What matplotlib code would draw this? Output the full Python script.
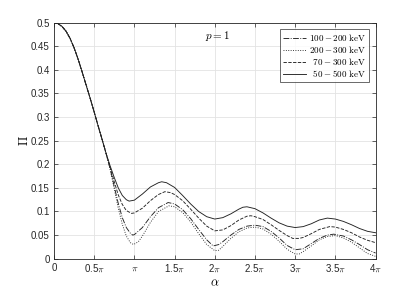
import numpy as np
import matplotlib
matplotlib.use("Agg")
import matplotlib.pyplot as plt

plt.rcParams['font.family'] = ['Liberation Sans', 'DejaVu Sans']
plt.rcParams['mathtext.fontset'] = 'cm'

# alpha in units of pi
common_x = [0, 0.05, 0.1, 0.15, 0.2, 0.25, 0.3, 0.35, 0.4, 0.45, 0.5, 0.55, 0.6, 0.65]
common_y = [0.500, 0.498, 0.492, 0.482, 0.467, 0.447, 0.423, 0.396, 0.368, 0.340, 0.311, 0.281, 0.252, 0.222]

solid_x = [0.7, 0.75, 0.8, 0.85, 0.9, 0.935, 1.0, 1.1, 1.2, 1.3, 1.34, 1.4, 1.5, 1.6, 1.7, 1.8, 1.9, 2.0,
           2.1, 2.2, 2.3, 2.35, 2.4, 2.5, 2.6, 2.7, 2.8, 2.9, 3.0, 3.1, 3.2, 3.3, 3.4, 3.5, 3.6, 3.7, 3.8, 3.9, 4.0]
solid_y = [0.196, 0.172, 0.150, 0.134, 0.125, 0.122, 0.124, 0.137, 0.152, 0.161, 0.163, 0.161, 0.151, 0.134,
           0.116, 0.100, 0.089, 0.084, 0.087, 0.095, 0.105, 0.109, 0.110, 0.106, 0.097, 0.086, 0.076, 0.069,
           0.066, 0.068, 0.074, 0.082, 0.086, 0.084, 0.079, 0.072, 0.064, 0.058, 0.055]

dashed_x = [0.7, 0.75, 0.8, 0.85, 0.9, 0.965, 1.0, 1.1, 1.2, 1.3, 1.38, 1.45, 1.5, 1.6, 1.7, 1.8, 1.9, 2.0,
            2.1, 2.2, 2.3, 2.4, 2.45, 2.5, 2.6, 2.7, 2.8, 2.9, 2.97, 3.05, 3.1, 3.2, 3.3, 3.43, 3.5, 3.6, 3.7,
            3.8, 3.9, 4.0]
dashed_y = [0.193, 0.163, 0.135, 0.115, 0.102, 0.096, 0.097, 0.107, 0.123, 0.136, 0.142, 0.140, 0.136, 0.123,
            0.105, 0.086, 0.069, 0.059, 0.061, 0.070, 0.082, 0.090, 0.091, 0.089, 0.083, 0.072, 0.060, 0.049,
            0.043, 0.043, 0.045, 0.053, 0.062, 0.068, 0.067, 0.062, 0.055, 0.046, 0.039, 0.034]

dashdot_x = [0.7, 0.75, 0.8, 0.85, 0.9, 0.95, 0.98, 1.0, 1.1, 1.2, 1.3, 1.42, 1.5, 1.6, 1.7, 1.8, 1.9, 1.98,
             2.05, 2.1, 2.2, 2.3, 2.4, 2.5, 2.6, 2.7, 2.8, 2.9, 3.0, 3.1, 3.2, 3.3, 3.4, 3.48, 3.6, 3.7, 3.8,
             3.9, 4.0]
dashdot_y = [0.190, 0.153, 0.117, 0.087, 0.066, 0.054, 0.050, 0.051, 0.066, 0.089, 0.108, 0.119, 0.116, 0.104,
             0.085, 0.062, 0.040, 0.027, 0.030, 0.036, 0.050, 0.062, 0.069, 0.071, 0.068, 0.058, 0.044, 0.028,
             0.019, 0.021, 0.032, 0.043, 0.050, 0.052, 0.048, 0.040, 0.030, 0.019, 0.012]

dotted_x = [0.7, 0.75, 0.8, 0.85, 0.9, 0.95, 0.99, 1.05, 1.1, 1.2, 1.3, 1.43, 1.5, 1.6, 1.7, 1.8, 1.9, 2.0,
            2.05, 2.1, 2.2, 2.3, 2.4, 2.5, 2.6, 2.7, 2.8, 2.9, 3.0, 3.05, 3.1, 3.2, 3.3, 3.4, 3.5, 3.6, 3.7,
            3.8, 3.9, 4.0]
dotted_y = [0.188, 0.148, 0.107, 0.073, 0.048, 0.034, 0.030, 0.036, 0.048, 0.077, 0.100, 0.112, 0.110, 0.098,
            0.078, 0.053, 0.030, 0.017, 0.018, 0.026, 0.043, 0.057, 0.065, 0.067, 0.063, 0.052, 0.037, 0.020,
            0.010, 0.010, 0.015, 0.027, 0.040, 0.047, 0.049, 0.044, 0.035, 0.023, 0.011, 0.005]

labels = [r'$100-200\ \mathrm{keV}$', r'$200-300\ \mathrm{keV}$',
          r'$\enspace70-300\ \mathrm{keV}$', r'$\enspace50-500\ \mathrm{keV}$']

xticks = [0, 0.5, 1, 1.5, 2, 2.5, 3, 3.5, 4]
xticklabels = ['0', r'0.5$\pi$', r'$\pi$', r'1.5$\pi$', r'2$\pi$', r'2.5$\pi$', r'3$\pi$', r'3.5$\pi$', r'4$\pi$']
yticks = [0, 0.05, 0.1, 0.15, 0.2, 0.25, 0.3, 0.35, 0.4, 0.45, 0.5]
yticklabels = ['0', '0.05', '0.1', '0.15', '0.2', '0.25', '0.3', '0.35', '0.4', '0.45', '0.5']

fig = plt.figure(figsize=(4.15, 2.91), dpi=100)
ax = fig.add_axes([0.130, 0.111, 0.775, 0.811])

lc = '#222222'
lw = 0.65
series = [(dashdot_x, dashdot_y, '-.'), (dotted_x, dotted_y, ':'),
          (dashed_x, dashed_y, '--'), (solid_x, solid_y, '-')]
for (sx, sy, ls), lab in zip(series, labels):
    xx = np.array(common_x + sx) * np.pi
    yy = np.array(common_y + sy)
    ax.plot(xx, yy, ls, color=lc, lw=lw, label=lab)

ax.set_xlim(0, 4 * np.pi)
ax.set_ylim(0, 0.5)
ax.set_xticks(np.array(xticks) * np.pi)
ax.set_xticklabels(xticklabels, fontsize=7)
ax.set_yticks(yticks)
ax.set_yticklabels(yticklabels, fontsize=7)
ax.tick_params(direction='in', length=3, width=0.5, color='#262626', labelcolor='#262626',
               top=True, right=True, pad=3)
ax.grid(True, color='#e3e3e3', lw=0.6)
ax.set_axisbelow(True)
for s in ax.spines.values():
    s.set_color('#262626')
    s.set_linewidth(0.6)

ax.set_xlabel(r'$\alpha$', fontsize=9, labelpad=2)
ax.set_ylabel(r'$\Pi$', fontsize=9, labelpad=0)
ax.text(2.04 * np.pi, 0.472, r'$p=1$', fontsize=8, ha='center', va='center')

leg = ax.legend(loc='upper right', fontsize=6.5, frameon=True, fancybox=False, edgecolor='#262626',
                handlelength=2.5, handletextpad=0.4, borderpad=0.3, labelspacing=0.12,
                borderaxespad=0.7)
leg.get_frame().set_linewidth(0.6)

fig.savefig('out.png', dpi=100)
